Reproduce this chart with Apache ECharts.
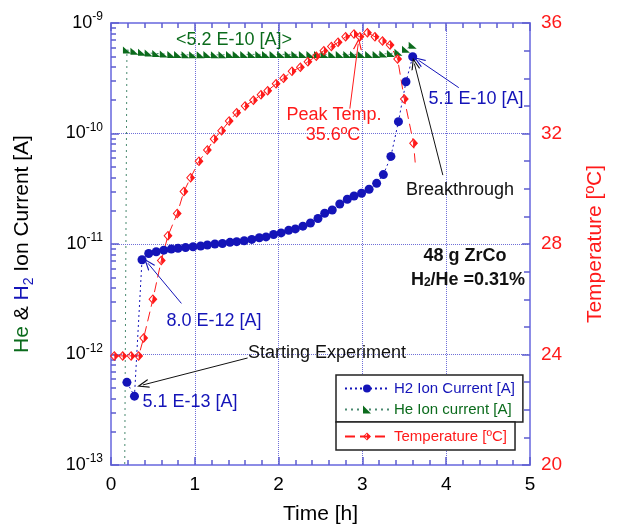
<!DOCTYPE html>
<html>
<head>
<meta charset="utf-8">
<script src="https://cdn.jsdelivr.net/npm/echarts@6/dist/echarts.min.js"></script>
<style>
  html, body { margin: 0; padding: 0; background: #fff; }
  #chart { width: 617px; height: 530px; }
</style>
</head>
<body>
<div id="chart"></div>
<script>
// H2 ion current (blue circles), time in hours
const hTime = [
  0.19, 0.28, 0.37, 0.45, 0.54, 0.63, 0.72, 0.80, 0.89, 0.98,
  1.07, 1.15, 1.24, 1.33, 1.42, 1.50, 1.59, 1.68, 1.77, 1.85,
  1.94, 2.03, 2.12, 2.20, 2.29, 2.38, 2.47, 2.55, 2.64, 2.73,
  2.82, 2.90, 2.99, 3.08, 3.17, 3.25, 3.34, 3.43, 3.52, 3.60
];
const hCurrent = [
  5.6e-13, 4.2e-13, 7.2e-12, 8.2e-12, 8.5e-12, 8.8e-12, 9.0e-12, 9.15e-12, 9.3e-12, 9.45e-12,
  9.6e-12, 9.8e-12, 1.0e-11, 1.01e-11, 1.035e-11, 1.05e-11, 1.07e-11, 1.1e-11, 1.14e-11, 1.16e-11,
  1.22e-11, 1.26e-11, 1.33e-11, 1.37e-11, 1.45e-11, 1.55e-11, 1.7e-11, 1.9e-11, 2.03e-11, 2.3e-11,
  2.54e-11, 2.72e-11, 2.88e-11, 3.13e-11, 3.54e-11, 4.25e-11, 6.2e-11, 1.28e-10, 2.94e-10, 4.95e-10
];

// He ion current (green triangles); first point sits below the axis
const heTime = [
  0.15,
  0.19, 0.28, 0.37, 0.45, 0.54, 0.63, 0.72, 0.80, 0.89, 0.98,
  1.07, 1.15, 1.24, 1.33, 1.42, 1.50, 1.59, 1.68, 1.77, 1.85,
  1.94, 2.03, 2.12, 2.20, 2.29, 2.38, 2.47, 2.55, 2.64, 2.73,
  2.82, 2.90, 2.99, 3.08, 3.17, 3.25, 3.34, 3.43, 3.52, 3.60
];
const heCurrent = [
  1e-15,
  5.7e-10, 5.55e-10, 5.45e-10, 5.35e-10, 5.3e-10, 5.25e-10, 5.2e-10, 5.2e-10, 5.15e-10, 5.15e-10,
  5.15e-10, 5.2e-10, 5.15e-10, 5.15e-10, 5.2e-10, 5.2e-10, 5.2e-10, 5.2e-10, 5.2e-10, 5.2e-10,
  5.2e-10, 5.2e-10, 5.2e-10, 5.2e-10, 5.2e-10, 5.2e-10, 5.2e-10, 5.2e-10, 5.2e-10, 5.2e-10,
  5.2e-10, 5.2e-10, 5.2e-10, 5.2e-10, 5.2e-10, 5.25e-10, 5.3e-10, 5.45e-10, 5.8e-10, 6.3e-10
];

// Temperature (red diamonds)
const tempTime = [
  0.04, 0.14, 0.24, 0.33, 0.39, 0.50, 0.60, 0.68, 0.79, 0.87,
  0.95, 1.05, 1.15, 1.23, 1.32, 1.41, 1.50, 1.60, 1.70, 1.79,
  1.87, 1.97, 2.06, 2.16, 2.26, 2.35, 2.45, 2.54, 2.63, 2.71,
  2.80, 2.90, 2.97, 3.06, 3.15, 3.24, 3.33, 3.42, 3.50, 3.61,
  3.63
];
const tempValue = [
  23.95, 23.95, 23.95, 23.95, 24.6, 26.0, 27.4, 28.3, 29.1, 29.9,
  30.4, 31.0, 31.4, 31.8, 32.1, 32.45, 32.75, 33.0, 33.2, 33.4,
  33.55, 33.8, 34.0, 34.25, 34.4, 34.6, 34.8, 35.0, 35.15, 35.3,
  35.5, 35.6, 35.5, 35.65, 35.5, 35.35, 35.2, 34.7, 33.25, 31.65,
  30.95
];

const FONT = '"Liberation Sans", Arial, sans-serif';
const BLUE = '#1414b8';
const GREEN = '#0b6b1c';
const RED = '#ff1a1a';
const AXIS = '#8c8ce6';
const TICK = '#5c5cd0';
const GRID = '#6f6fd8';

const TRI = 'path://M0,0 L0,10 L12,10 Z';
const HALF_DIAMOND = 'path://M0,-10 L10,0 L0,10 L-10,0 Z M0,-7 L-7,0 L0,7 Z';
const CHEVRON = 'path://M5,0 L10,11 L8.6,11 L5,3 L1.4,11 L0,11 Z';

const chart = echarts.init(document.getElementById('chart'));

const hData = hTime.map((t, i) => [t, hCurrent[i]]);
const heData = heTime.map((t, i) => [t, heCurrent[i]]);
const tempData = tempTime.map((t, i) =>
  i === tempTime.length - 1 ? { value: [t, tempValue[i]], symbol: 'none' } : [t, tempValue[i]]);

function arrow(from, to, color) {
  return [{ coord: from, lineStyle: { color: color } }, { coord: to }];
}

function txt(text, x, y, color, size, extra) {
  return {
    type: 'text', x: x, y: y, z: 100,
    style: Object.assign({
      text: text, fill: color, font: size + 'px ' + FONT,
      align: 'center', verticalAlign: 'middle'
    }, extra || {})
  };
}

const option = {
  animation: false,
  grid: { left: 110, right: 87, top: 23, bottom: 65 },
  legend: [
    {
      data: [
        { name: 'H2 Ion Current [A]', textStyle: { color: BLUE } },
        { name: 'He Ion current [A]', textStyle: { color: GREEN } }
      ],
      orient: 'vertical', left: 336, top: 375,
      itemWidth: 44, itemHeight: 10, itemGap: 6,
      padding: [6, 8, 5, 8],
      borderColor: '#222', borderWidth: 1.5, backgroundColor: '#fff',
      textStyle: { fontSize: 15, fontFamily: FONT }
    },
    {
      data: [{ name: 'Temperature [ºC]', textStyle: { color: RED } }],
      orient: 'vertical', left: 336, top: 422,
      itemWidth: 44, itemHeight: 10,
      padding: [7, 8, 6, 8],
      borderColor: '#222', borderWidth: 1.5, backgroundColor: '#fff',
      textStyle: { fontSize: 15, fontFamily: FONT }
    }
  ],
  xAxis: [
    {
      type: 'value', min: 0, max: 5, interval: 1, position: 'bottom',
      axisLine: { show: true, onZero: false, lineStyle: { color: AXIS, width: 2 } },
      axisTick: { show: true, inside: true, length: 8, lineStyle: { color: TICK, width: 1.5 } },
      minorTick: { show: true, splitNumber: 5, length: 5, lineStyle: { color: TICK, width: 1.5 } },
      axisLabel: { color: '#000', fontSize: 19, margin: 10, fontFamily: FONT },
      splitLine: { show: true, lineStyle: { color: GRID, type: 'dotted', width: 1 } },
      name: 'Time [h]', nameLocation: 'middle', nameGap: 39,
      nameTextStyle: { fontSize: 21, color: '#000', fontFamily: FONT }
    },
    {
      type: 'value', min: 0, max: 5, interval: 1, position: 'top',
      axisLine: { show: true, onZero: false, lineStyle: { color: AXIS, width: 2 } },
      axisTick: { show: true, inside: true, length: 8, lineStyle: { color: TICK, width: 1.5 } },
      minorTick: { show: true, splitNumber: 5, length: 5, lineStyle: { color: TICK, width: 1.5 } },
      axisLabel: { show: false },
      splitLine: { show: false }
    }
  ],
  yAxis: [
    {
      type: 'log', min: 1e-13, max: 1e-9, position: 'left',
      axisLine: { show: true, onZero: false, lineStyle: { color: AXIS, width: 2 } },
      axisTick: { show: true, inside: true, length: 8, lineStyle: { color: TICK, width: 1.5 } },
      minorTick: { show: true, splitNumber: 9, length: 5, lineStyle: { color: TICK, width: 1.5 } },
      axisLabel: {
        margin: 8,
        formatter: v => '{b|10}{e|' + Math.round(Math.log10(v)) + '}',
        rich: {
          b: { fontSize: 18, color: '#000', lineHeight: 24, fontFamily: FONT },
          e: { fontSize: 12, color: '#000', lineHeight: 14, verticalAlign: 'top', fontFamily: FONT }
        }
      },
      splitLine: { show: true, lineStyle: { color: GRID, type: 'dotted', width: 1 } },
      name: '{g|He} & {b|H}{s|2} Ion Current [A]',
      nameLocation: 'middle', nameRotate: 90, nameGap: 75,
      nameTextStyle: {
        fontSize: 21, color: '#000', fontFamily: FONT, lineHeight: 28,
        rich: {
          g: { fontSize: 21, color: GREEN, lineHeight: 28, fontFamily: FONT },
          b: { fontSize: 21, color: BLUE, lineHeight: 28, fontFamily: FONT },
          s: { fontSize: 14, color: BLUE, lineHeight: 14, verticalAlign: 'bottom', fontFamily: FONT }
        }
      }
    },
    {
      type: 'value', min: 20, max: 36, interval: 4, position: 'right',
      axisLine: { show: true, onZero: false, lineStyle: { color: AXIS, width: 2 } },
      axisTick: { show: true, inside: true, length: 8, lineStyle: { color: TICK, width: 1.5 } },
      minorTick: { show: true, splitNumber: 4, length: 6, lineStyle: { color: TICK, width: 1.5 } },
      axisLabel: { color: RED, fontSize: 19, margin: 11, fontFamily: FONT },
      splitLine: { show: false },
      name: 'Temperature [ºC]', nameLocation: 'middle', nameRotate: 90, nameGap: 55,
      nameTextStyle: { fontSize: 21, color: RED, fontFamily: FONT }
    }
  ],
  series: [
    {
      name: 'He Ion current [A]', type: 'line', data: heData,
      xAxisIndex: 0, yAxisIndex: 0,
      symbol: TRI, symbolSize: [8, 7],
      itemStyle: { color: GREEN },
      lineStyle: { color: '#4a8a70', width: 1, type: [2, 4] }
    },
    {
      name: 'H2 Ion Current [A]', type: 'line', data: hData,
      xAxisIndex: 0, yAxisIndex: 0,
      symbol: 'circle', symbolSize: 9,
      itemStyle: { color: BLUE },
      lineStyle: { color: BLUE, width: 1, type: [2, 3] },
      markLine: {
        silent: true, symbol: ['none', CHEVRON], symbolSize: [9, 12],
        label: { show: false },
        lineStyle: { type: 'solid', width: 1, color: BLUE },
        data: [
          arrow([4.15, 2.6e-10], [3.67, 4.6e-10], BLUE),
          arrow([3.96, 4.2e-11], [3.62, 4.3e-10], '#111'),
          arrow([0.84, 2.9e-12], [0.44, 6.7e-12], BLUE),
          arrow([1.63, 9.3e-13], [0.38, 5.3e-13], '#111')
        ]
      }
    },
    {
      name: 'Temperature [ºC]', type: 'line', data: tempData,
      xAxisIndex: 0, yAxisIndex: 1,
      symbol: HALF_DIAMOND, symbolSize: [9, 10],
      itemStyle: { color: RED },
      lineStyle: { color: RED, width: 1, type: [10, 5] },
      markLine: {
        silent: true, symbol: ['none', CHEVRON], symbolSize: [9, 12],
        label: { show: false },
        lineStyle: { type: 'solid', width: 1, color: RED },
        data: [arrow([2.85, 32.9], [2.95, 35.25], RED)]
      }
    }
  ],
  graphic: [
    txt('<5.2 E-10 [A]>', 234, 40, GREEN, 18),
    txt('Peak Temp.', 334, 115, RED, 18),
    txt('35.6ºC', 333, 135, RED, 18),
    txt('5.1 E-10 [A]', 476, 99, BLUE, 18),
    txt('Breakthrough', 460, 190, '#111', 18),
    txt('48 g ZrCo', 465, 256, '#111', 18, { font: 'bold 18px ' + FONT }),
    txt('H{s|2}/He =0.31%', 468, 280, '#111', 18, {
      font: 'bold 18px ' + FONT,
      rich: { s: { font: 'bold 12px ' + FONT, fill: '#111', verticalAlign: 'bottom', lineHeight: 12 } }
    }),
    txt('8.0 E-12 [A]', 214, 321, BLUE, 18),
    txt('Starting Experiment', 327, 353, '#111', 18),
    txt('5.1 E-13 [A]', 190, 402, BLUE, 18)
  ]
};

chart.setOption(option);
</script>
</body>
</html>
